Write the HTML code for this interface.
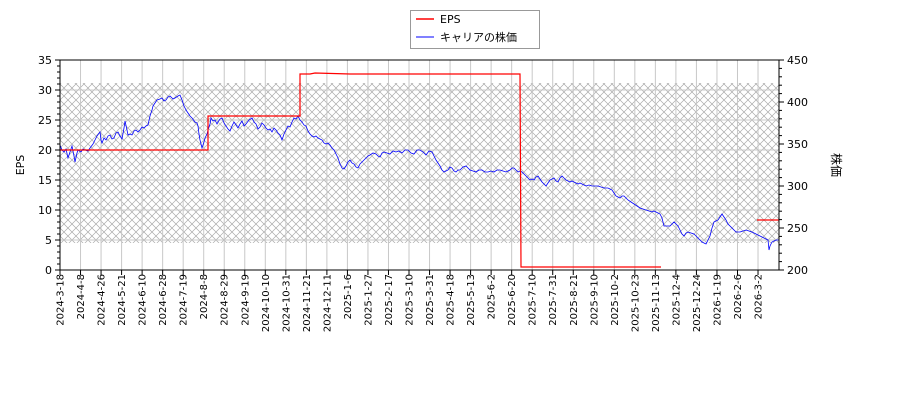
<!DOCTYPE html><html><head><meta charset="utf-8"><style>body{margin:0;background:#fff}svg text{font-family:"DejaVu Sans","Noto Sans CJK JP",sans-serif;font-size:11px;fill:#000}svg text.xl{font-size:10px}</style></head><body>
<svg width="900" height="400" xmlns="http://www.w3.org/2000/svg">
<defs><pattern id="h" width="8" height="8" patternUnits="userSpaceOnUse"><path d="M0,0L8,8M8,0L0,8" stroke="#aaa" stroke-width="0.7"/></pattern></defs>
<rect x="60" y="83" width="719" height="160" fill="url(#h)"/>
<g id="grid"></g>
<polyline fill="none" stroke="#0000ff" stroke-width="0.8" points="60,145 62,150 64,152 66,149 68,158 70,152 72,146 74,156 75,162 77,153 78,150 81,152 83,149 85,150 88,151 90,148 93,144 95,140 97,136 100,132 101,140 102,143 104,138 106,140 108,136 110,135 112,139 114,138 116,133 118,132 120,136 122,139 124,128 125,121 127,130 128,135 130,134 132,135 134,131 136,130 138,132 140,130 142,127 144,128 146,126 148,125 150,116 152,110 153,106 155,103 157,100 160,99 162,98 164,101 166,100 168,97 170,96 173,99 175,98 178,96 180,95 182,100 184,106 186,110 188,113 190,116 192,118 195,122 197,123 198,126 199,134 200,140 202,148 204,142 205,138 207,134 208,130 210,124 211,118 213,121 215,120 217,124 218,122 220,119 222,118 224,123 226,126 228,129 230,131 232,126 234,122 236,125 238,128 240,124 242,121 244,126 246,124 249,120 252,118 254,122 256,124 258,129 260,127 262,123 264,125 266,128 268,130 270,129 272,132 274,128 276,130 278,133 280,135 282,140 284,134 286,130 288,126 290,127 292,122 294,118 296,119 298,116 300,120 302,122 304,125 306,126 308,131 310,134 312,136 314,137 316,136 318,138 320,139 322,140 324,143 326,144 328,143 330,145 332,148 334,150 336,154 338,158 340,164 342,168 344,169 346,166 348,162 350,160 352,163 354,164 356,167 358,168 360,164 362,162 364,160 366,158 368,156 370,155 373,153 376,154 378,156 380,157 382,153 384,152 387,153 390,154 393,151 396,152 399,151 402,153 405,150 408,150 411,153 414,154 417,150 420,150 423,152 426,155 429,151 432,152 434,156 436,160 438,163 440,166 442,170 444,172 446,171 448,170 450,167 452,168 454,171 456,172 458,170 460,170 463,167 466,166 468,168 470,170 473,171 476,172 479,170 482,170 485,172 488,172 491,171 494,172 497,170 500,170 503,171 506,172 508,171 510,170 512,168 514,168 516,170 518,172 520,171 522,172 524,174 526,176 528,178 530,180 532,179 534,180 536,177 538,176 540,179 542,182 544,184 546,186 548,183 550,180 552,179 554,178 556,181 558,182 560,178 562,176 564,178 566,180 568,181 570,182 572,181 574,182 576,183 578,184 580,183 582,184 584,185 586,186 589,185 592,186 595,186 598,186 601,187 604,188 606,188 608,188 610,189 612,190 614,193 616,196 618,197 620,198 622,196 624,196 626,198 628,200 631,202 634,204 637,206 640,208 643,209 646,210 649,211 652,212 654,211 656,212 658,213 660,214 662,218 663,222 664,226 667,226 670,226 672,224 674,222 676,224 678,226 680,230 682,234 684,236 686,233 688,232 691,233 694,234 696,236 698,238 700,240 702,242 704,243 706,244 708,240 710,236 712,228 714,222 716,221 718,220 720,217 722,214 724,217 726,220 728,224 730,226 732,228 734,230 736,232 738,232 740,232 743,231 746,230 749,231 752,232 754,233 756,234 758,235 760,236 762,237 764,238 766,239 768,240 769,250 770,246 772,242 774,241 776,240 779,240"/>
<polyline fill="none" stroke="#ff0000" stroke-width="1.2" points="60,150 208,150 208,116 300,116 300,74 310,74 315,73 350,74 520,74 521,267 661,267"/>
<line x1="757" y1="220" x2="779" y2="220" stroke="#ff0000" stroke-width="1.2"/>
<rect x="60" y="60" width="719" height="210" fill="none" stroke="#000" stroke-width="1"/>
<g id="ax"></g>
<text x="24" y="165" transform="rotate(-90 24 165)" text-anchor="middle">EPS</text>
<text x="832" y="165" transform="rotate(90 832 165)" text-anchor="middle" style="font-size:12px">株価</text>
<rect x="410.5" y="10.5" width="129" height="38" fill="#fff" stroke="#999"/>
<line x1="416" y1="19" x2="434" y2="19" stroke="#f00" stroke-width="1.5"/>
<line x1="416" y1="37" x2="434" y2="37" stroke="#00f" stroke-width="1"/>
<text x="440" y="23">EPS</text>
<text x="440" y="41">キャリアの株価</text>
<script>
const ns="http://www.w3.org/2000/svg";
function el(t,a,p,tx){const e=document.createElementNS(ns,t);for(const k in a)e.setAttribute(k,a[k]);if(tx!==undefined)e.textContent=String(tx);document.getElementById(p).appendChild(e);}
const L=["2024-3-18","2024-4-8","2024-4-26","2024-5-21","2024-6-10","2024-6-28","2024-7-19","2024-8-8","2024-8-29","2024-9-19","2024-10-10","2024-10-31","2024-11-21","2024-12-11","2025-1-6","2025-1-27","2025-2-17","2025-3-10","2025-3-31","2025-4-18","2025-5-13","2025-6-2","2025-6-20","2025-7-10","2025-7-31","2025-8-21","2025-9-10","2025-10-2","2025-10-23","2025-11-13","2025-12-4","2025-12-24","2026-1-19","2026-2-6","2026-3-2"];
L.forEach((s,i)=>{const x=60+i*20.53;el("line",{x1:x,y1:60,x2:x,y2:270,stroke:"#c8c8c8"},"grid");el("line",{x1:x,y1:270,x2:x,y2:275,stroke:"#000"},"ax");el("text",{class:"xl",x:0,y:0,transform:`translate(${x+3.5},${274}) rotate(-90)`,"text-anchor":"end"},"ax",s);});
for(let v=5;v<35;v+=5){const y=270-v*6;el("line",{x1:60,y1:y,x2:779,y2:y,stroke:"#c8c8c8"},"grid");}
for(let v=0;v<=35;v+=1){const y=270-v*6;el("line",{x1:57,y1:y,x2:60,y2:y,stroke:"#000"},"ax");}
for(let v=0;v<=35;v+=5){const y=270-v*6;el("line",{x1:55,y1:y,x2:60,y2:y,stroke:"#000"},"ax");el("text",{x:52,y:y+4,"text-anchor":"end"},"ax",v);}
for(let v=200;v<=450;v+=10){const y=270-(v-200)*0.84;el("line",{x1:779,y1:y,x2:782,y2:y,stroke:"#000"},"ax");}
for(let v=200;v<=450;v+=50){const y=270-(v-200)*0.84;el("line",{x1:779,y1:y,x2:784,y2:y,stroke:"#000"},"ax");el("text",{x:787,y:y+4},"ax",v);}
</script>
</svg></body></html>
